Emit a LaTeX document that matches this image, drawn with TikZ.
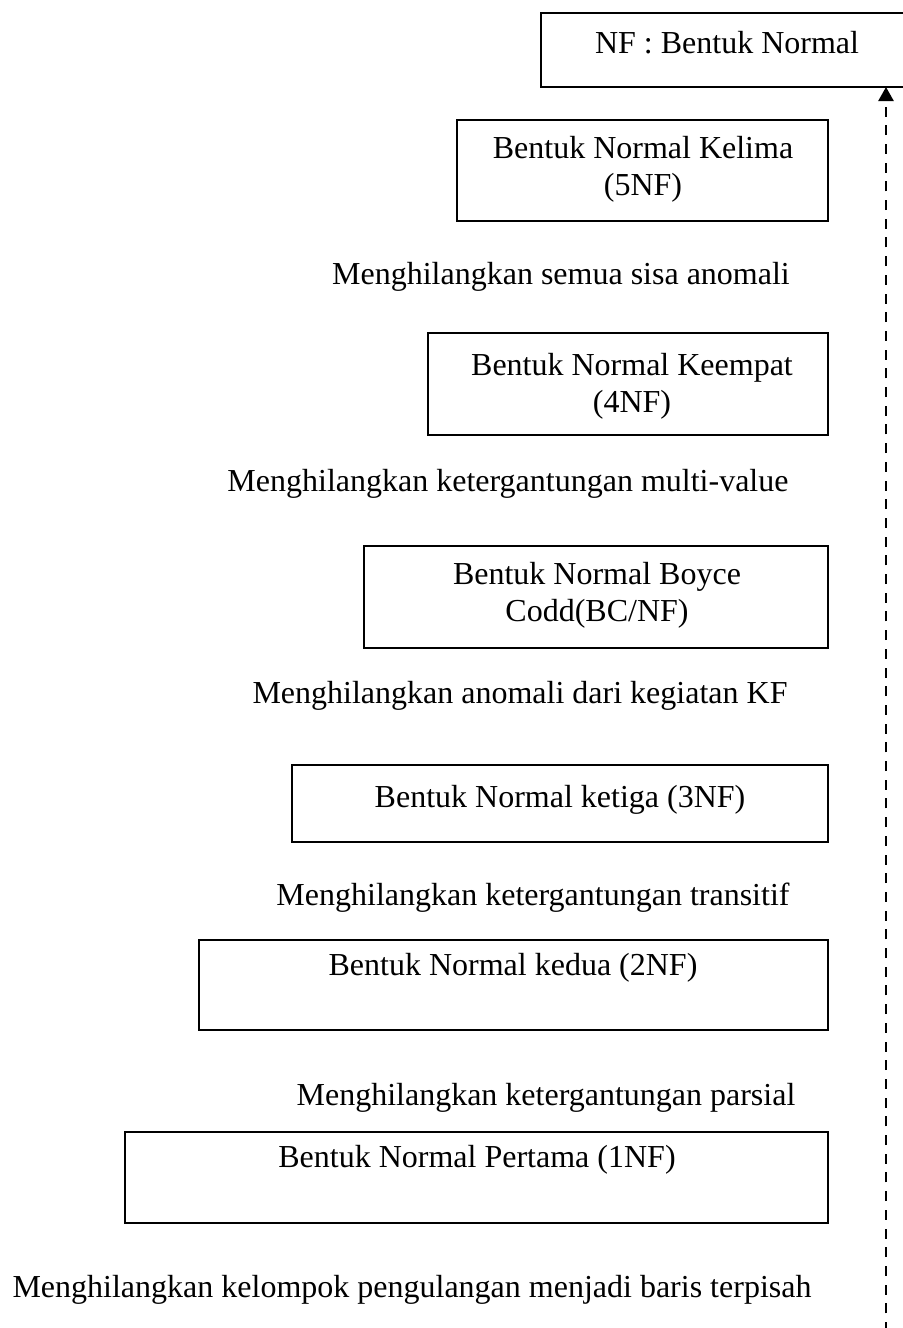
\documentclass[tikz,border=0pt]{standalone}
\usepackage{fontspec}
\setmainfont{Liberation Serif}
\usetikzlibrary{arrows.meta}
\begin{document}
\begin{tikzpicture}[x=0.5pt, y=-0.5pt,
  every node/.style={font=\fontsize{16pt}{18.5pt}\selectfont},
  nfbox/.style={draw, line width=1pt, inner sep=0pt, outer sep=0pt},
  txt/.style={inner sep=0pt, align=center},
  steplabel/.style={inner sep=0pt},
  progress/.style={line width=1.25pt, dash pattern=on 5pt off 4.35pt,
    -{Triangle[width=7.5pt, length=7pt]}}]
  \useasboundingbox (0,0) rectangle (903,1328);

  % normal form boxes, from the top down
  \node[nfbox, minimum width=186pt, minimum height=37pt]   (nf)  at (727,50)     {};
  \node[nfbox, minimum width=185.5pt, minimum height=50.5pt] (nf5) at (642.5,170.5) {};
  \node[nfbox, minimum width=200pt, minimum height=51pt]   (nf4) at (628,384)    {};
  \node[nfbox, minimum width=232pt, minimum height=51pt]   (bcnf) at (596,597)   {};
  \node[nfbox, minimum width=268pt, minimum height=38.5pt] (nf3) at (560,803.5)  {};
  \node[nfbox, minimum width=314.5pt, minimum height=45pt] (nf2) at (513.5,985)  {};
  \node[nfbox, minimum width=351.5pt, minimum height=45.5pt] (nf1) at (476.5,1177.5) {};

  % box captions
  \node[txt] (tnf)  at (727,43)  {NF : Bentuk Normal};
  \node[txt] (tnf5) at (643,169) {Bentuk Normal Kelima\\(5NF)};
  \node[txt] (tnf4) at (632,386) {Bentuk Normal Keempat\\(4NF)};
  \node[txt] (tbc)  at (597,595) {Bentuk Normal Boyce\\Codd(BC/NF)};
  \node[txt] (tnf3) at (560,800) {Bentuk Normal ketiga (3NF)};
  \node[txt] (tnf2) at (513,968) {Bentuk Normal kedua (2NF)};
  \node[txt] (tnf1) at (477,1160) {Bentuk Normal Pertama (1NF)};

  % steps between the forms
  \node[steplabel] (s5) at (561,277)    {Menghilangkan semua sisa anomali};
  \node[steplabel] (s4) at (508,484)    {Menghilangkan ketergantungan multi-value};
  \node[steplabel] (sbc) at (520,695.5) {Menghilangkan anomali dari kegiatan KF};
  \node[steplabel] (s3) at (533,897.5)  {Menghilangkan ketergantungan transitif};
  \node[steplabel] (s2) at (546,1097.5) {Menghilangkan ketergantungan parsial};
  \node[steplabel] (s1) at (412,1289.5) {Menghilangkan kelompok pengulangan menjadi baris terpisah};

  % dashed progression arrow up to the NF box
  \coordinate (base) at (886,1332);
  \draw[progress] (base) -- (base |- nf.south);
\end{tikzpicture}
\end{document}
